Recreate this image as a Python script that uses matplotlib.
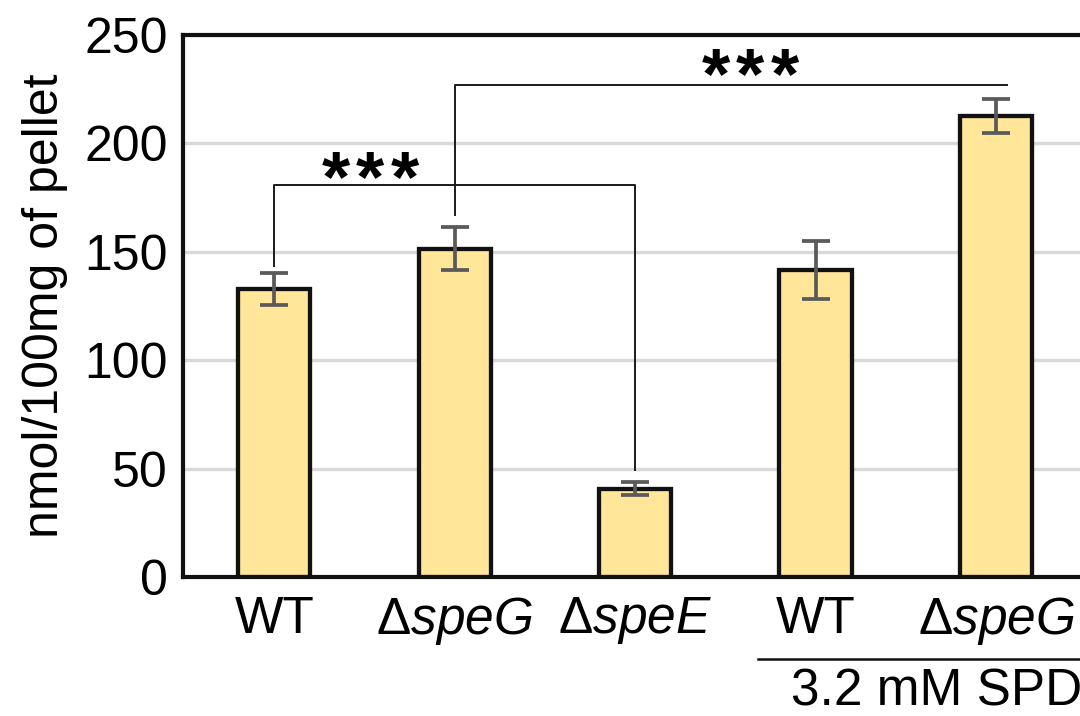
import matplotlib
matplotlib.use("Agg")
import matplotlib.pyplot as plt
import numpy as np

plt.rcParams['font.family'] = ['Liberation Sans', 'DejaVu Sans']
plt.rcParams['mathtext.fontset'] = 'custom'
plt.rcParams['mathtext.rm'] = 'Liberation Sans'
plt.rcParams['mathtext.it'] = 'Liberation Sans:italic'

# data
strains = ['WT', r'$\Delta\mathit{speG}$', r'$\Delta\mathit{speE}$', 'WT', r'$\Delta\mathit{speG}$']
amount = [133, 151.5, 40.6, 141.6, 212.6]
err = [7.4, 10, 3, 13.2, 8]
yticks = [0, 50, 100, 150, 200, 250]
# significance brackets: (left bar, right bar, height, left drop end, right drop end)
sig = [(0, 2, 181, 143.5, 49.4), (1, 4, 227, 167, None)]
group_label = '3.2 mM SPD'

fig = plt.figure(figsize=(10.8, 7.16), dpi=100)
ax = fig.add_axes([183/1080, 1-577/716, 1-183/1080, (577-35)/716])

x = np.arange(len(amount))
ax.bar(x, amount, width=0.4, color='#FFE699', edgecolor='#111111', linewidth=3.1, zorder=3)
ax.errorbar(x, amount, yerr=err, fmt='none', ecolor='#5a5a5a', elinewidth=2.7,
            capsize=10, capthick=2.7, zorder=4)

ax.set_xlim(-0.505, 4.465)
ax.set_ylim(0, 250)
ax.set_yticks(yticks)
ax.set_xticks(x)
ax.set_xticklabels(strains, fontsize=37)
ax.tick_params(axis='y', labelsize=36, length=0, pad=11)
ax.tick_params(axis='x', length=0, pad=13)
ax.yaxis.grid(True, color='#d9d9d9', lw=2.4, zorder=0)
ax.set_axisbelow(True)
for s in ['left', 'bottom', 'top']:
    ax.spines[s].set_linewidth(3.0)
    ax.spines[s].set_color('#111111')
ax.spines['right'].set_visible(False)
ax.set_ylabel('nmol/100mg of pellet', fontsize=36, labelpad=12)

# brackets with stars
for i, j, h, d1, d2 in sig:
    if d2 is None:
        ax.plot([x[i], x[i], x[j] + 0.06], [d1, h, h], color='#1a1a1a', lw=1.4, zorder=5)
    else:
        ax.plot([x[i], x[i], x[j], x[j]], [d1, h, h, d2], color='#1a1a1a', lw=1.4, zorder=5)
for cx, base in [(0.532, 173.2), (2.637, 220.7)]:
    for k in (-1, 0, 1):
        ax.text(cx + k * 0.192, base, '*', fontsize=52, fontweight='bold',
                ha='center', va='baseline')

# group line under the axis
ax.plot([2.68, 4.47], [-0.152 * 250, -0.152 * 250], color='#111111', lw=1.8, clip_on=False)
ax.text(3.67, -0.212 * 250, group_label, fontsize=37, ha='center', va='center')

fig.savefig('out.png', dpi=100)
